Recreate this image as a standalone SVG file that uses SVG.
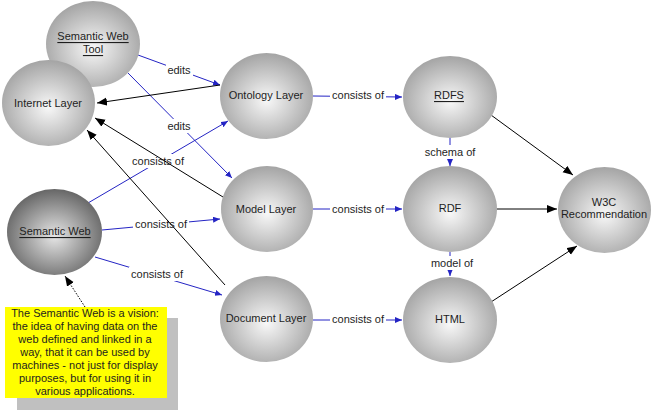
<svg xmlns="http://www.w3.org/2000/svg" width="652" height="413" viewBox="0 0 652 413">
<defs>
<radialGradient id="g" cx="50%" cy="55%" r="55%">
<stop offset="0" stop-color="#f8f8f8"/>
<stop offset="1" stop-color="#a4a4a4"/>
</radialGradient>
<radialGradient id="gd" cx="50%" cy="55%" r="55%">
<stop offset="0" stop-color="#e6e6e6"/>
<stop offset="1" stop-color="#666666"/>
</radialGradient>
<marker id="ab" markerUnits="userSpaceOnUse" markerWidth="8" markerHeight="8" refX="7" refY="3" orient="auto">
<path d="M0,0 L7,3 L0,6 Z" fill="#2424c4"/>
</marker>
<marker id="ak" markerUnits="userSpaceOnUse" markerWidth="11" markerHeight="9" refX="10" refY="4" orient="auto">
<path d="M0,0 L10,4 L0,8 Z" fill="#000"/>
</marker>
<style>
.n{fill:url(#g)}
.nd{fill:url(#gd)}
text{font-family:"Liberation Sans",Arial,sans-serif;font-size:11px;fill:#1e1e1e;text-anchor:middle;dominant-baseline:central}
.u{text-decoration:underline}
.b{stroke:#2424c4;stroke-width:1;fill:none;marker-end:url(#ab)}
.k{stroke:#000;stroke-width:1;fill:none;marker-end:url(#ak)}
.lb{fill:#fff}
</style>
</defs>
<rect width="652" height="413" fill="#fff"/>
<g id="connectors">
<line class="b" x1="138" y1="55" x2="220" y2="85"/>
<line class="b" x1="128" y1="73" x2="232" y2="178"/>
<line class="b" x1="88" y1="203" x2="228" y2="121"/>
<line class="b" x1="102" y1="230" x2="220" y2="219"/>
<line class="b" x1="95" y1="257" x2="222" y2="295"/>
<line class="b" x1="313" y1="96" x2="402" y2="97"/>
<line class="b" x1="313" y1="209" x2="402" y2="209"/>
<line class="b" x1="313" y1="320" x2="402" y2="320"/>
<line class="b" x1="450" y1="137" x2="450" y2="166"/>
<line class="b" x1="450" y1="252" x2="450" y2="276"/>
<rect class="lb" x="166" y="63" width="27" height="14"/>
<rect class="lb" x="166" y="119" width="27" height="14"/>
<rect class="lb" x="130" y="154" width="56" height="14"/>
<rect class="lb" x="133" y="217" width="56" height="14"/>
<rect class="lb" x="129" y="267" width="56" height="14"/>
<rect class="lb" x="330" y="88" width="56" height="14"/>
<rect class="lb" x="330" y="202" width="56" height="14"/>
<rect class="lb" x="330" y="312" width="56" height="14"/>
<rect class="lb" x="424" y="145" width="52" height="14"/>
<rect class="lb" x="430" y="256" width="45" height="14"/>
<text x="179" y="70">edits</text>
<text x="179" y="126">edits</text>
<text x="158" y="161">consists of</text>
<text x="161" y="224">consists of</text>
<text x="157" y="274">consists of</text>
<text x="358" y="95">consists of</text>
<text x="358" y="209">consists of</text>
<text x="358" y="319">consists of</text>
<text x="450" y="152">schema of</text>
<text x="452" y="263">model of</text>
<line class="k" x1="220" y1="85" x2="97" y2="103"/>
<line class="k" x1="223" y1="197" x2="95" y2="118"/>
<line class="k" x1="225" y1="285" x2="87" y2="130"/>
<line class="k" x1="491" y1="115" x2="573" y2="175"/>
<line class="k" x1="497" y1="209" x2="557" y2="209"/>
<line class="k" x1="491" y1="302" x2="577" y2="246"/>
<line class="k" x1="85" y1="307" x2="65" y2="276" stroke-dasharray="1.5,1.5"/>
</g>
<g id="semantic-web-tool"><ellipse class="n" cx="93" cy="44" rx="47" ry="43"/><text class="u" x="93" y="36">Semantic Web</text><text class="u" x="93" y="49">Tool</text></g>
<g id="internet-layer"><ellipse class="n" cx="48.5" cy="103" rx="46.5" ry="43"/><text x="48" y="103">Internet Layer</text></g>
<g id="semantic-web"><ellipse class="nd" cx="54.5" cy="232" rx="47.5" ry="43"/><text class="u" x="55" y="231">Semantic Web</text></g>
<g id="ontology-layer"><ellipse class="n" cx="266.5" cy="96" rx="46.5" ry="43"/><text x="266" y="95">Ontology Layer</text></g>
<g id="model-layer"><ellipse class="n" cx="267" cy="209" rx="46" ry="43"/><text x="266" y="209">Model Layer</text></g>
<g id="document-layer"><ellipse class="n" cx="266.5" cy="319" rx="46.5" ry="43"/><text x="266" y="318">Document Layer</text></g>
<g id="rdfs"><ellipse class="n" cx="450" cy="97" rx="47" ry="41"/><text class="u" x="449" y="95">RDFS</text></g>
<g id="rdf"><ellipse class="n" cx="450" cy="209" rx="47" ry="43"/><text x="450" y="208">RDF</text></g>
<g id="html"><ellipse class="n" cx="450" cy="320" rx="47" ry="43"/><text x="450" y="319">HTML</text></g>
<g id="w3c-recommendation"><ellipse class="n" cx="604.5" cy="210" rx="46.5" ry="43"/><text x="604" y="202">W3C</text><text x="604" y="214">Recommendation</text></g>
<g id="note">
<rect x="17" y="318" width="161" height="92" fill="#c0c0c0"/>
<rect x="5" y="307" width="162" height="91" fill="#ffff00"/>
<text x="85" y="313">The Semantic Web is a vision:</text>
<text x="85" y="326">the idea of having data on the</text>
<text x="85" y="339">web defined and linked in a</text>
<text x="85" y="352">way, that it can be used by</text>
<text x="85" y="365">machines - not just for display</text>
<text x="85" y="378">purposes, but for using it in</text>
<text x="85" y="391">various applications.</text>
</g>
</svg>
